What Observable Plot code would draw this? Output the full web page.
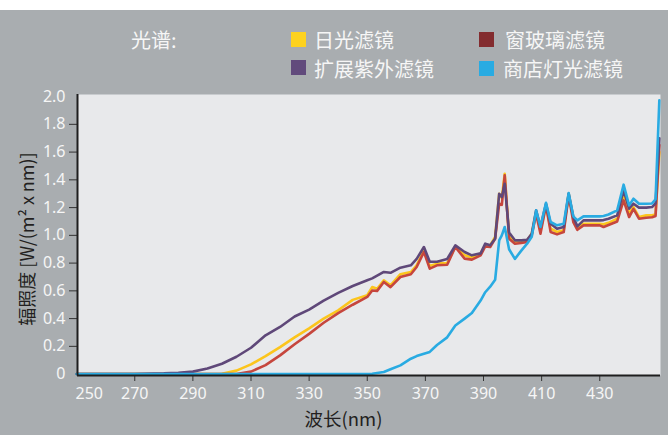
<!DOCTYPE html>
<html><head><meta charset="utf-8">
<script src="https://cdn.jsdelivr.net/npm/d3@7"></script>
<script src="https://cdn.jsdelivr.net/npm/@observablehq/plot@0.6"></script>
<style>
body{margin:0;background:#fff;font-family:"Noto Sans CJK SC","Noto Sans",sans-serif;}
#wrap{position:relative;margin-top:10px;width:668px;height:425px;background:#a9adb0;overflow:hidden}
#legend{position:relative;height:74px}
.lt{position:absolute;color:#f6f6f6;font-size:20px;line-height:1;white-space:nowrap}
.sw{position:absolute;width:15px;height:15px}
#chart svg{display:block}
</style></head><body>
<div id="wrap"><div id="legend"></div><div id="chart"></div></div>
<script>
// ---- data ----
const wavelength = [250,260,270,280,285,290,295,300,305,310,315,320,325,330,335,340,345,350,351.7,353.4,355.7,358,361.4,365,367,369.5,371.5,374,377.5,380.3,383.5,386,389,390.6,392.3,394,395.4,396.3,397.3,398.8,400.8,403,405,406.6,408.1,409.6,411.5,413.1,415.3,417.6,419.3,420.9,422.3,424.4,427,430,431.3,433,436,438.2,440.1,441.6,443.5,446,448,449.2,450.5];
const daylight = [0,0,0,0,0,0,0,0.003,0.025,0.07,0.13,0.195,0.265,0.33,0.40,0.46,0.535,0.568,0.627,0.615,0.676,0.64,0.72,0.736,0.784,0.892,0.78,0.796,0.80,0.92,0.856,0.84,0.868,0.928,0.928,0.988,1.30,1.27,1.444,0.99,0.952,0.958,0.964,1.012,1.168,1.036,1.216,1.048,1.024,1.036,1.30,1.12,1.06,1.084,1.084,1.084,1.08,1.09,1.12,1.276,1.156,1.204,1.132,1.144,1.144,1.15,1.60];
const windowGlass = [0,0,0,0,0,0,0,0,0,0.018,0.065,0.135,0.215,0.29,0.37,0.44,0.50,0.556,0.603,0.60,0.664,0.627,0.70,0.72,0.772,0.88,0.76,0.784,0.788,0.916,0.832,0.825,0.856,0.92,0.916,0.976,1.228,1.22,1.432,0.976,0.94,0.945,0.952,1.0,1.156,1.012,1.216,1.024,1.007,1.024,1.288,1.096,1.04,1.072,1.072,1.072,1.06,1.075,1.10,1.252,1.132,1.19,1.12,1.127,1.13,1.14,1.65];
const extendedUV = [0,0,0,0.005,0.01,0.018,0.04,0.075,0.125,0.19,0.28,0.34,0.415,0.465,0.53,0.585,0.635,0.676,0.69,0.71,0.736,0.73,0.767,0.784,0.83,0.916,0.81,0.81,0.83,0.928,0.88,0.856,0.87,0.94,0.928,0.976,1.30,1.276,1.372,1.02,0.964,0.964,0.968,1.012,1.18,1.06,1.228,1.084,1.048,1.06,1.30,1.132,1.065,1.108,1.108,1.108,1.11,1.12,1.144,1.324,1.192,1.228,1.20,1.20,1.204,1.23,1.70];
const shopLight = [0,0,0,0,0,0,0,0,0,0,0,0,0,0,0,0,0,0,0.003,0.008,0.015,0.035,0.063,0.111,0.13,0.147,0.16,0.21,0.265,0.35,0.40,0.44,0.53,0.59,0.63,0.68,0.964,1.0,1.06,0.90,0.83,0.89,0.94,0.99,1.18,1.06,1.234,1.096,1.072,1.084,1.305,1.137,1.108,1.137,1.137,1.137,1.14,1.15,1.18,1.365,1.216,1.264,1.228,1.228,1.23,1.26,1.973];
const seriesNames = ["日光滤镜","窗玻璃滤镜","扩展紫外滤镜","商店灯光滤镜"];
const seriesValues = [daylight, windowGlass, extendedUV, shopLight];
const lineColors = ["#fcc51c","#c6463d","#5f4879","#29abe2"];
const legendColors = ["#fdd21f","#832c2f","#614a7c","#29abe2"];
const xTicks = [270,290,310,330,350,370,390,410,430];
const yTicks = [0,0.2,0.4,0.6,0.8,1.0,1.2,1.4,1.6,1.8,2.0];
const legendTitle = "光谱:";
const xLabel = "波长(nm)";
const yLabel = "辐照度 [W/(m² x nm)]";

// ---- legend ----
const legend = document.getElementById("legend");
const t = document.createElement("div");
t.className = "lt"; t.textContent = legendTitle;
t.style.left = "131px"; t.style.top = "20px";
legend.appendChild(t);
const pos = [[291,22,314,20],[479,22,505,20],[291,50,314,49],[479,51,503,49]];
seriesNames.forEach((n,i)=>{
  const s = document.createElement("div");
  s.className = "sw"; s.style.background = legendColors[i];
  s.style.left = pos[i][0]+"px"; s.style.top = pos[i][1]+"px";
  legend.appendChild(s);
  const l = document.createElement("div");
  l.className = "lt"; l.textContent = n;
  l.style.left = pos[i][2]+"px"; l.style.top = pos[i][3]+"px";
  legend.appendChild(l);
});

// ---- chart ----
const rows = [];
seriesNames.forEach((name,i)=> wavelength.forEach((w,j)=> rows.push({series:name, wl:w, v:seriesValues[i][j]})));
const xd = [250.3, 450.9], yd = [-0.01, 2.015];
const numFont = '"Liberation Sans Narrow","Noto Sans",sans-serif';
const chart = Plot.plot({
  width: 668, height: 351,
  marginLeft: 77, marginRight: 8, marginTop: 10, marginBottom: 60,
  style: {background: "transparent", fontFamily: numFont, fontSize: "16px", color: "#f6f6f6"},
  x: {domain: xd},
  y: {domain: yd},
  color: {domain: seriesNames, range: lineColors},
  marks: [
    Plot.frame({fill: "#e8e9eb", stroke: null}),
    Plot.lineY(rows, {x: "wl", y: "v", z: "series", stroke: "series", strokeWidth: 2.6, strokeLinejoin: "round"}),
    Plot.axisX({ticks: xTicks, tickSize: 6, tickPadding: 6, stroke: "#333", fill: "#f6f6f6", label: null, tickFormat: d => String(d)}),
    Plot.text(["250"], {frameAnchor: "bottom-left", dy: 12, dx: -2, textAnchor: "start", lineAnchor: "top", fill: "#f6f6f6", fontSize: 16}),
    Plot.axisY({ticks: yTicks, tickSize: 0, tickPadding: 12, fill: "#f6f6f6", label: null, tickFormat: d => d === 0 ? "0" : d.toFixed(1)}),
    Plot.axisY({ticks: yTicks.slice(1, -1), tickSize: 8, stroke: "#333", label: null, tickFormat: () => ""}),
    Plot.ruleX([xd[0]], {stroke: "#1e1e1e", strokeWidth: 2}),
    Plot.ruleY([yd[0]], {stroke: "#1e1e1e", strokeWidth: 2}),
    Plot.text([yLabel], {frameAnchor: "left", dx: -49.5, dy: 4, rotate: -90, textAnchor: "middle", lineAnchor: "middle", fill: "#231f20", fontSize: 18, fontFamily: '"Noto Sans CJK SC",sans-serif'}),
    Plot.text([xLabel], {frameAnchor: "bottom", dx: -25.5, dy: 45, textAnchor: "middle", lineAnchor: "middle", fill: "#231f20", fontSize: 18.5, fontFamily: '"Noto Sans CJK SC",sans-serif'})
  ]
});
document.getElementById("chart").appendChild(chart);
</script>
</body></html>
